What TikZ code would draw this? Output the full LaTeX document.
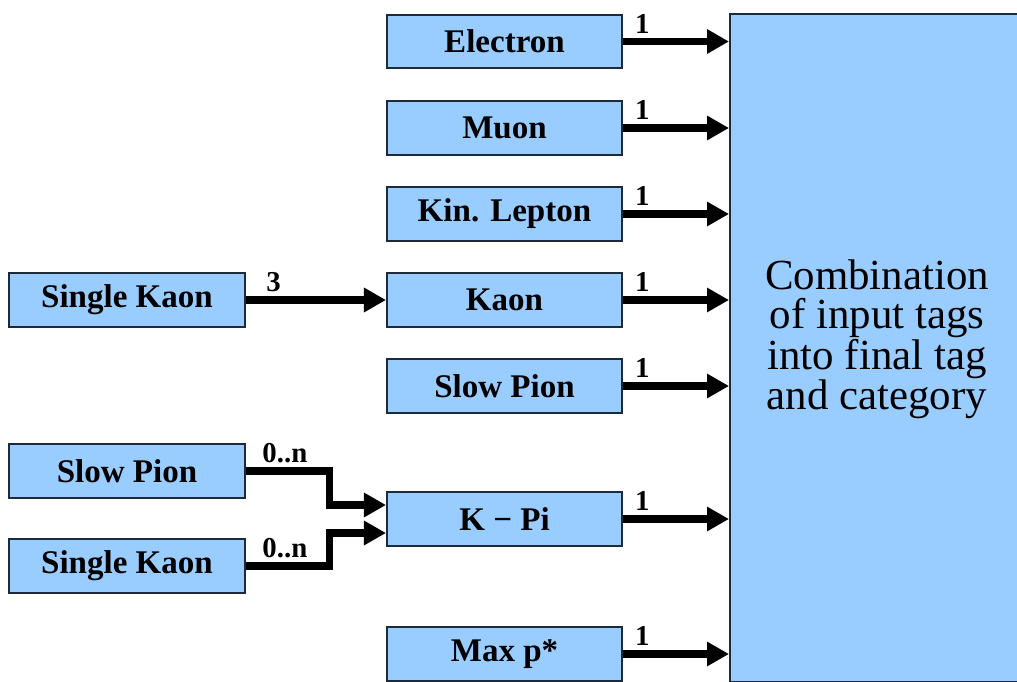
\documentclass[tikz,border=0pt]{standalone}
\usepackage{fontspec}
\setmainfont{Liberation Serif}
\usetikzlibrary{arrows.meta,calc}
\definecolor{boxblue}{HTML}{99CCFF}
\definecolor{boxline}{HTML}{1C2A3A}

\begin{document}
\begin{tikzpicture}[x=0.025cm, y=-0.025cm,
  tagbox/.style={draw=boxline, line width=1.4pt, fill=boxblue, minimum width=5.875cm,
    minimum height=1.33cm, inner sep=0pt, font=\fontsize{23.5}{26}\selectfont\bfseries},
  flow/.style={line width=5pt, -{Triangle[length=0.55cm, width=0.58cm]}},
  mult/.style={font=\fontsize{20.5}{22}\selectfont\bfseries, inner sep=1pt, anchor=south west, yshift=0.08cm}
]
% Fix the frame
\clip (0,0) rectangle (1017,682);
\fill[white] (0,0) rectangle (1017,682);

% Combination box
\node[draw=boxline, line width=1.4pt, fill=boxblue, minimum width=7.4cm, minimum height=16.7cm,
  inner sep=0pt, anchor=north west] (combo) at (729,13) {};
\node[align=center, font=\fontsize{30.5}{28}\selectfont] (combotext) at (877,339)
  {Combination\\of input tags\\into final tag\\and category};

% Input tags
\node[tagbox] (electron) at (504.5,41.5) {Electron};
\node[tagbox] (muon) at (504.5,128) {Muon};
\node[tagbox] (kinlep) at (504.5,214) {Kin. Lepton};
\node[tagbox] (kaon) at (504.5,300) {Kaon};
\node[tagbox] (slowpion) at (504.5,386) {Slow Pion};
\node[tagbox] (kpi) at (504.5,519) {K − Pi};
\node[tagbox] (maxp) at (504.5,654) {Max p*};

% Feeding tags
\node[tagbox] (skaon) at (127,300) {Single Kaon};
\node[tagbox] (spionb) at (127,471) {Slow Pion};
\node[tagbox] (skaonb) at (127,566) {Single Kaon};

% Arrows into combination
\foreach \t in {electron,muon,kinlep,kaon,slowpion,kpi,maxp}
  \draw[flow] (\t.east) node[mult, xshift=0.18cm] {1} -- (\t.east -| combo.west);

% Arrows into Kaon and K-Pi
\draw[flow] (skaon.east) -- node[pos=0.2, mult, anchor=south] {3} (kaon.west);
\draw[flow] (spionb.east) node[mult, xshift=0.3cm] {0..n} -- ++(2.1cm,0) |- ([yshift=0.35cm]kpi.west);
\draw[flow] (skaonb.east) node[mult, xshift=0.3cm] {0..n} -- ++(2.1cm,0) |- ([yshift=-0.35cm]kpi.west);
\end{tikzpicture}
\end{document}
